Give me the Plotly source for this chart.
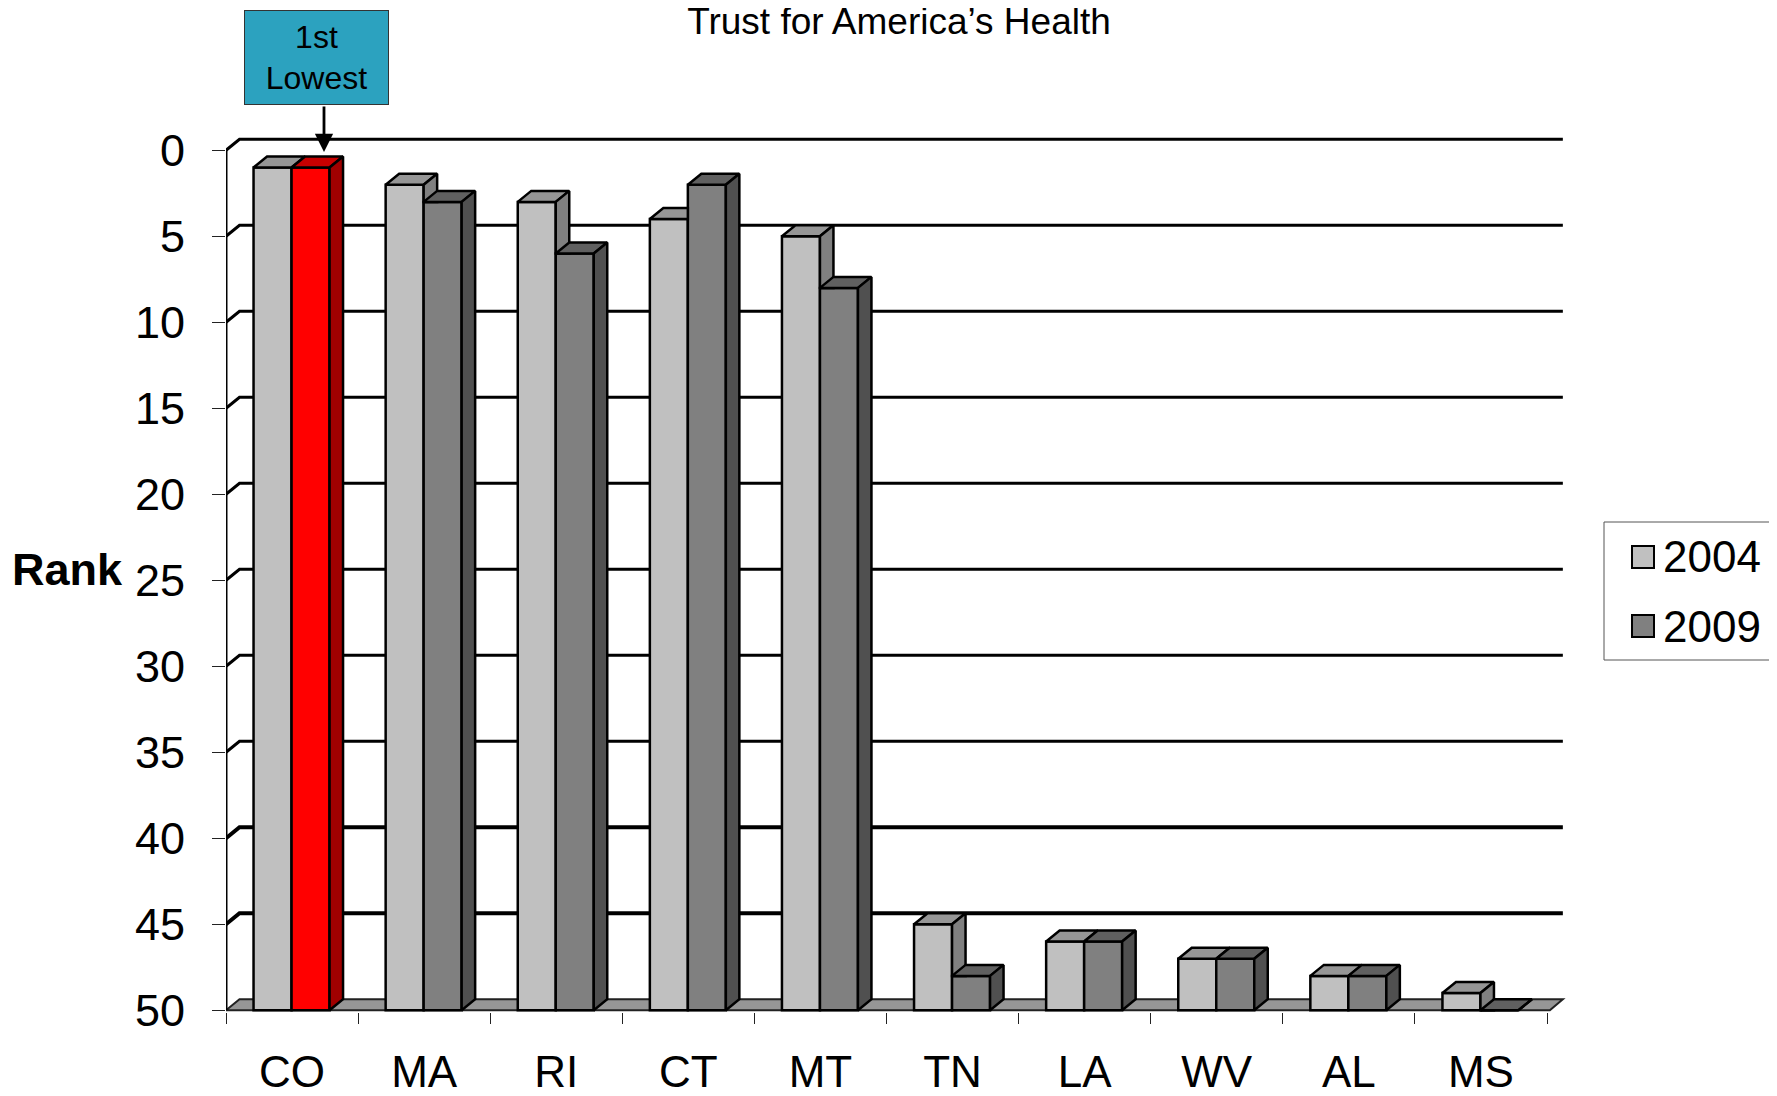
import plotly.graph_objects as go

categories = ["CO", "MA", "RI", "CT", "MT", "TN", "LA", "WV", "AL", "MS"]
rank_2004 = [1, 2, 3, 4, 5, 45, 46, 47, 48, 49]
rank_2009 = [1, 3, 6, 2, 8, 48, 46, 47, 48, 50]
rank_ticks = [0, 5, 10, 15, 20, 25, 30, 35, 40, 45, 50]
heavy_ticks = [40, 45]
series_names = ["2004", "2009"]
FONT = "Liberation Sans"

PAGE_MARGIN = 8  # the page body keeps its default margin
W, H = 1777 - PAGE_MARGIN, 1096 - PAGE_MARGIN
L, R, T, B = 226 - PAGE_MARGIN, 1566 - PAGE_MARGIN, 133 - PAGE_MARGIN, 1012 - PAGE_MARGIN
X_UNIT = 132.1
Y_UNIT = 17.2
BASE = 50
x_left = -0.5
x_right = x_left + (R - L) / X_UNIT
y_bottom = 50.1
y_top = y_bottom - (B - T) / Y_UNIT
DX = 13.5 / X_UNIT
DY = 11 / Y_UNIT
BAR_W = 38 / X_UNIT
X_BACK_END = 9.62
CENTER_SHIFT = -0.5 / X_UNIT

GREY = dict(front="#C0C0C0", top="#969696", side="#808080")
DARK = dict(front="#808080", top="#606060", side="#505050")
RED = dict(front="#FF0000", top="#C80000", side="#A00000")
colors_2009 = [RED] + [DARK] * (len(categories) - 1)


def fx(px):
    return (px - PAGE_MARGIN - L) / (R - L)


def fy(py):
    return (B - (py - PAGE_MARGIN)) / (B - T)


fig = go.Figure()
xs = list(range(len(categories)))
fig.add_trace(go.Bar(
    x=xs, y=[BASE - v for v in rank_2004], base=rank_2004, name=series_names[0],
    width=BAR_W, offset=-BAR_W + CENTER_SHIFT, marker=dict(color=GREY["front"], line=dict(color="black", width=2.5)),
    showlegend=False,
))
fig.add_trace(go.Bar(
    x=xs, y=[BASE - v for v in rank_2009], base=rank_2009, name=series_names[1],
    width=BAR_W, offset=CENTER_SHIFT, marker=dict(color=[c["front"] for c in colors_2009], line=dict(color="black", width=2.5)),
    showlegend=False,
))


def face(px_list, py_list, color):
    fig.add_trace(go.Scatter(
        x=px_list + px_list[:1], y=py_list + py_list[:1], mode="lines", fill="toself",
        fillcolor=color, line=dict(color="black", width=2.5), hoverinfo="skip", showlegend=False,
    ))


for i in xs:
    a, b = rank_2004[i], rank_2009[i]
    c = i + CENTER_SHIFT
    l0, r0 = c - BAR_W, c
    r1 = c + BAR_W
    # 2004 top, cut where the taller 2009 bar hides it
    if b < a:
        face([l0, l0 + DX, r0, r0], [a, a - DY, a - DY, a], GREY["top"])
    else:
        face([l0, l0 + DX, r0 + DX, r0], [a, a - DY, a - DY, a], GREY["top"])
    # 2004 side, only what rises above the 2009 bar
    if b > a:
        face([r0, r0 + DX, r0 + DX, r0], [a, a - DY, b, b], GREY["side"])
    # 2009 top and side
    col = colors_2009[i]
    face([r0, r0 + DX, r1 + DX, r1], [b, b - DY, b - DY, b], col["top"])
    face([r1, r1 + DX, r1 + DX, r1], [b, b - DY, BASE - DY, BASE], col["side"])

# left wall, drawn unclipped at the plot edge
fig.add_trace(go.Scatter(
    x=[x_left, x_left], y=[rank_ticks[0], rank_ticks[-1]], mode="lines", cliponaxis=False,
    line=dict(color="black", width=3), hoverinfo="skip", showlegend=False,
))

shapes = []
# floor
shapes.append(dict(
    type="path", xref="x", yref="y", layer="below",
    path=f"M {x_left} {BASE} L {x_left + DX} {BASE - DY} L {X_BACK_END} {BASE - DY} L {x_right - DX - 0.02} {BASE} Z",
    fillcolor="#969696", line=dict(color="#222222", width=2),
))
# back wall grid lines with their slanted returns
for t in rank_ticks[:-1]:
    shapes.append(dict(
        type="path", xref="x", yref="y", layer="below",
        path=f"M {x_left} {t} L {x_left + DX} {t - DY} L {X_BACK_END} {t - DY}",
        line=dict(color="black", width=4 if t in heavy_ticks else 3),
    ))
# legend frame and swatches
shapes.append(dict(
    type="rect", xref="paper", yref="paper", x0=fx(1604), x1=fx(1800), y0=fy(660), y1=fy(522),
    line=dict(color="#555555", width=1), fillcolor="white", layer="above",
))
for col, py in zip((GREY, DARK), (557, 626)):
    shapes.append(dict(
        type="rect", xref="paper", yref="paper", x0=fx(1632), x1=fx(1654), y0=fy(py + 11), y1=fy(py - 11),
        line=dict(color="black", width=2), fillcolor=col["front"], layer="above",
    ))

annotations = [
    dict(xref="paper", yref="paper", x=fx(67), y=fy(569), text="<b>Rank</b>", showarrow=False,
         font=dict(family=FONT, size=45, color="black"), xanchor="center", yanchor="middle"),
    dict(xref="paper", yref="paper", x=fx(316), y=fy(57.5), text="1st<br>Lowest", showarrow=False,
         font=dict(family=FONT, size=32, color="black"), xanchor="center", yanchor="middle",
         bgcolor="#2CA2BF", bordercolor="#333333", borderwidth=1, width=141, height=91, align="center"),
    dict(xref="x", yref="y", x=(324 - 226) / X_UNIT + x_left, y=0.1, text="", showarrow=True,
         axref="pixel", ayref="pixel", ax=0, ay=-47, arrowhead=2, arrowsize=1.3, arrowwidth=2.8, arrowcolor="black"),
]
for name, py in zip(series_names, (556, 626)):
    annotations.append(dict(xref="paper", yref="paper", x=fx(1661), y=fy(py), text=name, showarrow=False,
                            font=dict(family=FONT, size=44, color="black"), xanchor="left", yanchor="middle"))

fig.update_layout(
    width=W, height=H, autosize=False,
    margin=dict(l=L, r=W - R, t=T, b=H - B),
    paper_bgcolor="white", plot_bgcolor="white",
    barmode="overlay", showlegend=False,
    title=dict(text="Trust for America’s Health", x=(899 - PAGE_MARGIN) / W, xanchor="center",
               y=1 - (21 - PAGE_MARGIN) / H, yanchor="middle",
               font=dict(family=FONT, size=37, color="black")),
    shapes=shapes, annotations=annotations,
    xaxis=dict(
        range=[x_left, x_right], tickmode="array", tickvals=xs, ticktext=categories, ticks="", automargin=False,
        showgrid=False, zeroline=False, showline=False, ticklabelstandoff=30,
        tickfont=dict(family=FONT, size=44, color="black"),
        minor=dict(tickmode="array", tickvals=[v + x_left for v in range(len(categories) + 1)],
                   ticks="outside", ticklen=11, tickwidth=1, tickcolor="#222222", showgrid=False),
    ),
    yaxis=dict(
        range=[y_bottom, y_top], tickmode="array", tickvals=rank_ticks, ticks="outside", ticklen=13, automargin=False,
        tickwidth=1, tickcolor="#222222", showgrid=False, zeroline=False, showline=False,
        ticklabelstandoff=18, tickfont=dict(family=FONT, size=45, color="black"),
    ),
)
fig.write_html("out.html")
